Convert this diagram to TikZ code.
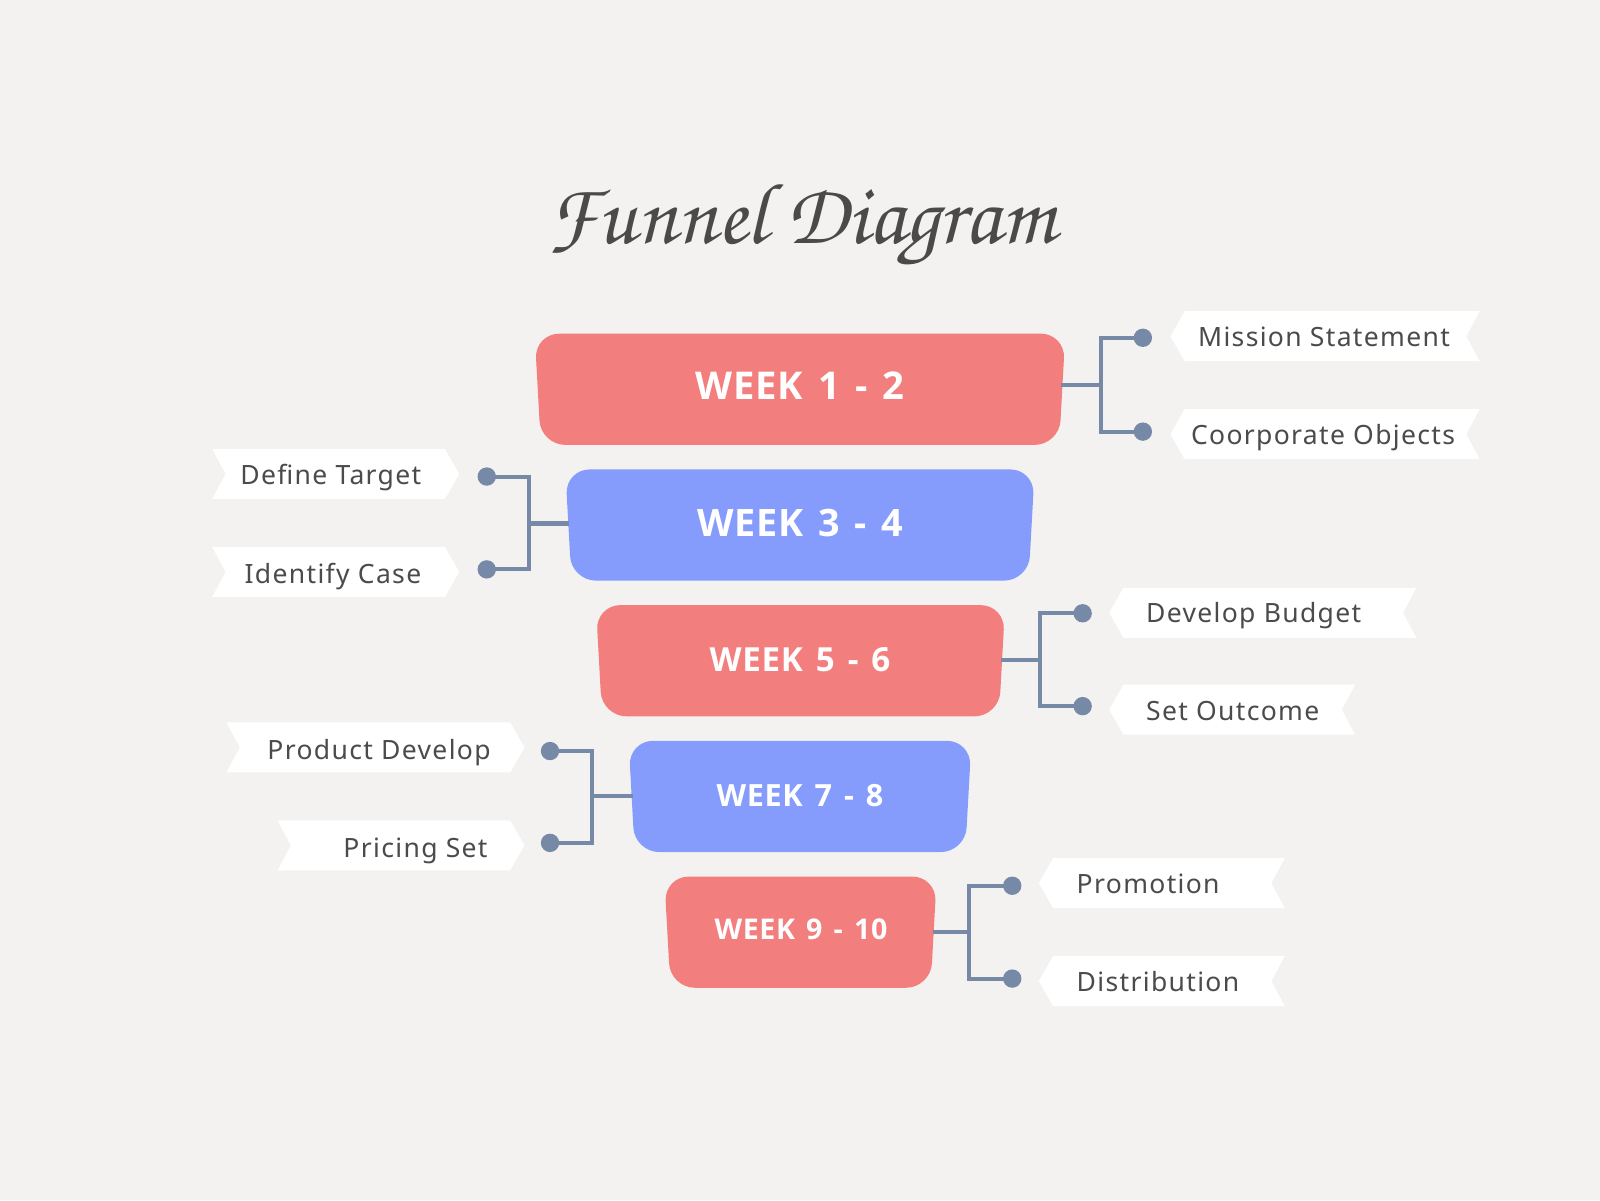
\documentclass[tikz,border=0pt]{standalone}
\usepackage{fontspec}
\setmainfont{Noto Sans}
\newfontfamily\lblfont[LetterSpace=5]{Noto Sans}
\newfontfamily\wkfamily[LetterSpace=2,WordSpace=1.4]{Open Sans}
\newfontfamily\titlefamily{texgyrechorus-mediumitalic.otf}
\definecolor{bgc}{HTML}{F3F2F0}
\definecolor{redc}{HTML}{F27E7E}
\definecolor{bluec}{HTML}{869CFD}
\definecolor{connc}{HTML}{7689A6}
\definecolor{txtc}{HTML}{4B4B4B}
\definecolor{titlec}{HTML}{4A4A4A}
\tikzset{
  boxshape/.style={rounded corners=24pt},
  tagshape/.style={fill=white},
  wk/.style={text=white, inner sep=0pt},
  lbl/.style={text=txtc, inner sep=0pt, font=\lblfont\fontsize{26}{30}\selectfont},
  conn/.style={draw=connc, line width=4pt},
  dot/.style={circle, fill=connc, minimum size=18pt, inner sep=0pt},
}
\begin{document}
\begin{tikzpicture}[x=1pt,y=-1pt]
\fill[bgc] (0,0) rectangle (1568,1176);
\useasboundingbox (0,0) rectangle (1568,1176);

% title
\node[text=titlec, font=\titlefamily\fontsize{85}{94}\selectfont] (title) at (785,220) {Funnel Diagram};

% funnel boxes
\fill[redc, boxshape] (524,327) -- (1044,327) -- (1038,436) -- (530,436) -- cycle;
\fill[bluec, boxshape] (554,460) -- (1014,460) -- (1008,569) -- (560,569) -- cycle;
\fill[redc, boxshape] (584,593) -- (985,593) -- (979,702) -- (590,702) -- cycle;
\fill[bluec, boxshape] (616,726) -- (952,726) -- (946,835) -- (622,835) -- cycle;
\fill[redc, boxshape] (651,859) -- (918,859) -- (912,968) -- (657,968) -- cycle;

\node[wk, font=\wkfamily\bfseries\fontsize{37.5}{44}\selectfont] (w1) at (784,378) {WEEK 1 - 2};
\node[wk, font=\wkfamily\bfseries\fontsize{37}{44}\selectfont] (w2) at (784,513) {WEEK 3 - 4};
\node[wk, font=\wkfamily\bfseries\fontsize{32.5}{40}\selectfont] (w3) at (784,646) {WEEK 5 - 6};
\node[wk, font=\wkfamily\bfseries\fontsize{30}{36}\selectfont] (w4) at (784,780) {WEEK 7 - 8};
\node[wk, font=\wkfamily\bfseries\fontsize{28}{34}\selectfont] (w5) at (785,911) {WEEK 9 - 10};

% tags (right side: point left, notch right)
\fill[tagshape] (1161,305) -- (1450,305) -- (1437,329.5) -- (1450,354) -- (1161,354) -- (1147,329.5) -- cycle;
\fill[tagshape] (1161,401) -- (1450,401) -- (1437,425.5) -- (1450,450) -- (1161,450) -- (1147,425.5) -- cycle;
\fill[tagshape] (1101,576) -- (1388,576) -- (1375,600.5) -- (1388,625) -- (1101,625) -- (1087,600.5) -- cycle;
\fill[tagshape] (1101,671) -- (1328,671) -- (1315,695.5) -- (1328,720) -- (1101,720) -- (1087,695.5) -- cycle;
\fill[tagshape] (1032,841) -- (1259,841) -- (1246,865.5) -- (1259,890) -- (1032,890) -- (1018,865.5) -- cycle;
\fill[tagshape] (1032,937) -- (1259,937) -- (1246,961.5) -- (1259,986) -- (1032,986) -- (1018,961.5) -- cycle;
% tags (left side: notch left, point right)
\fill[tagshape] (208,440) -- (436,440) -- (450,464.5) -- (436,489) -- (208,489) -- (221,464.5) -- cycle;
\fill[tagshape] (208,536) -- (436,536) -- (450,560.5) -- (436,585) -- (208,585) -- (221,560.5) -- cycle;
\fill[tagshape] (222,708) -- (500,708) -- (514,732.5) -- (500,757) -- (222,757) -- (235,732.5) -- cycle;
\fill[tagshape] (272,804) -- (500,804) -- (514,828.5) -- (500,853) -- (272,853) -- (285,828.5) -- cycle;

% labels
\node[lbl, anchor=base west] (t1a) at (1174,340) {Mission Statement};
\node[lbl, anchor=base west] (t1b) at (1167,436) {Coorporate Objects};
\node[lbl, anchor=base east] (t2a) at (413,475) {Define Target};
\node[lbl, anchor=base east] (t2b) at (413,572) {Identify Case};
\node[lbl, anchor=base west] (t3a) at (1123,610) {Develop Budget};
\node[lbl, anchor=base west] (t3b) at (1123,706) {Set Outcome};
\node[lbl, anchor=base east] (t4a) at (481,744) {Product Develop};
\node[lbl, anchor=base east] (t4b) at (478,840) {Pricing Set};
\node[lbl, anchor=base west] (t5a) at (1055,876) {Promotion};
\node[lbl, anchor=base west] (t5b) at (1055,972) {Distribution};

% connector anchors
\coordinate (e1) at (1040,377); \coordinate (j1) at (1079,377);
\coordinate (e2) at (558,513);  \coordinate (j2) at (518,513);
\coordinate (e3) at (981,647);  \coordinate (j3) at (1019,647);
\coordinate (e4) at (620,780);  \coordinate (j4) at (580,780);
\coordinate (e5) at (914,913);  \coordinate (j5) at (950,913);

\node[dot] (d1a) at (1120,331) {};
\node[dot] (d1b) at (1120,423) {};
\node[dot] (d2a) at (477,467) {};
\node[dot] (d2b) at (477,558) {};
\node[dot] (d3a) at (1061,601) {};
\node[dot] (d3b) at (1061,692) {};
\node[dot] (d4a) at (539,736) {};
\node[dot] (d4b) at (539,826) {};
\node[dot] (d5a) at (992,868) {};
\node[dot] (d5b) at (992,959) {};

\draw[conn] (e1) -- (j1);
\draw[conn] (d1a.center) -| (j1) |- (d1b.center);
\draw[conn] (e2) -- (j2);
\draw[conn] (d2a.center) -| (j2) |- (d2b.center);
\draw[conn] (e3) -- (j3);
\draw[conn] (d3a.center) -| (j3) |- (d3b.center);
\draw[conn] (e4) -- (j4);
\draw[conn] (d4a.center) -| (j4) |- (d4b.center);
\draw[conn] (e5) -- (j5);
\draw[conn] (d5a.center) -| (j5) |- (d5b.center);
\end{tikzpicture}
\end{document}
